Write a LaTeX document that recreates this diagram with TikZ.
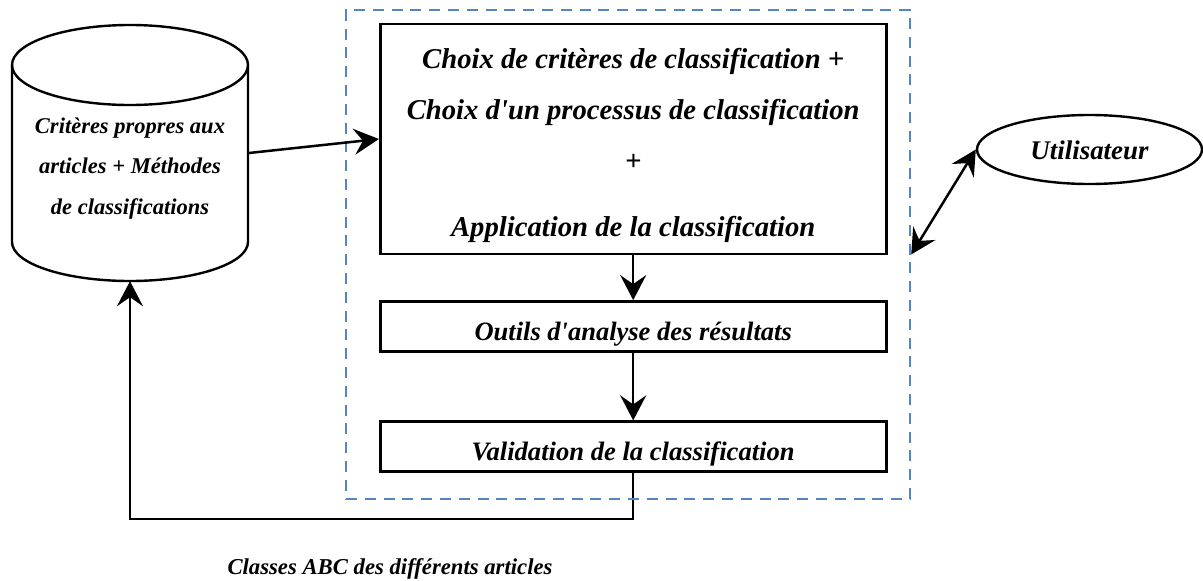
\documentclass[tikz,border=0pt]{standalone}
\usepackage{fontspec}
\newfontfamily\refserif{Liberation Serif}
\usetikzlibrary{arrows.meta,shapes.geometric}
\definecolor{dashblue}{HTML}{5585C2}
\newcommand{\fs}[2]{\refserif\bfseries\itshape\fontsize{#1}{#2}\selectfont}
\tikzset{
  x=1pt,y=-1pt,
  flowbox/.style={draw=black,line width=2.6pt,fill=white,minimum width=506pt,inner sep=0pt,align=center},
  flow/.style={draw=black,line width=2.5pt,-{Stealth[length=25pt,width=26pt,inset=9pt]}},
  twoway/.style={draw=black,line width=2.5pt,{Stealth[length=25pt,width=26pt,inset=9pt]}-{Stealth[length=25pt,width=26pt,inset=9pt]}},
  cylline/.style={draw=black,line width=2.4pt,line join=round},
}
\begin{document}
\begin{tikzpicture}
\useasboundingbox (0,0) rectangle (1203,581);
% cylinder
\draw[cylline,fill=white] (12,65) arc[start angle=180,end angle=0,x radius=118pt,y radius=40pt]
  -- (248,242) arc[start angle=0,end angle=-180,x radius=118pt,y radius=39pt] -- cycle;
\draw[cylline] (12,65) arc[start angle=180,end angle=360,x radius=118pt,y radius=40pt];
\node[inner sep=0pt,minimum width=236pt,minimum height=256pt,align=center,font=\fs{22.5}{40.5}] (cyl) at (130,153)
  {\rule{0pt}{46pt}Critères propres aux\\articles + Méthodes\\de classifications};
% process boxes
\node[flowbox,minimum height=230pt,font=\fs{28.7}{51}] (box1) at (633.2,139)
  {\rule{0pt}{33pt}Choix de critères de classification +\\Choix d'un processus de classification\\+\\[15pt]Application de la classification};
\node[flowbox,minimum height=50pt,font=\fs{26.5}{28},text height=28pt,text depth=0pt] (box2) at (633.2,326.4) {Outils d'analyse des résultats};
\node[flowbox,minimum height=50pt,font=\fs{26.6}{28},text height=28pt,text depth=0pt] (box3) at (633.2,446.7) {Validation de la classification};
% feedback under the dashed frame
\coordinate (fbk) at (633.2,519);
\draw[flow,line join=miter] (box3.south) -- (fbk) -| (cyl.south);
% dashed frame
\node[draw=dashblue,line width=2.4pt,dash pattern=on 11pt off 7.8pt,minimum width=564pt,minimum height=489pt,inner sep=0pt] (group) at (628,254.5) {};
% user
\node[draw=black,line width=2.4pt,ellipse,fill=white,minimum width=225pt,minimum height=69pt,inner sep=0pt,font=\fs{26.9}{28},text height=20pt,text depth=0pt] (user) at (1089.5,149.5) {Utilisateur};
% label
\node[anchor=base,inner sep=0pt,font=\fs{22.7}{24}] (classes) at (390,574) {Classes ABC des différents articles};
% connectors
\coordinate (cylout) at (249,153);
\draw[flow] (cylout) -- (box1.west);
\draw[flow] (box1.south) -- (box2.north);
\draw[flow] (box2.south) -- (box3.north);
\draw[twoway] (group.east) -- (user.west);
\end{tikzpicture}
\end{document}
